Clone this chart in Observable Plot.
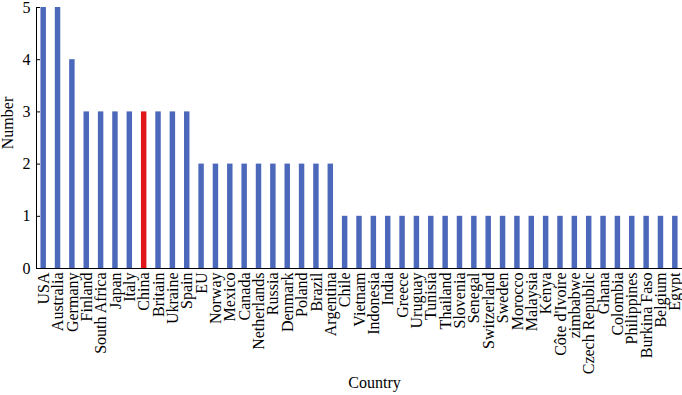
<!DOCTYPE html>
<html>
<head>
<meta charset="utf-8">
<script src="https://cdn.jsdelivr.net/npm/d3@7"></script>
<script src="https://cdn.jsdelivr.net/npm/@observablehq/plot@0.6"></script>
<style>
  html, body { margin: 0; padding: 0; background: #fff; }
  svg { display: block; }
</style>
</head>
<body>
<div id="chart"></div>
<script>
const countries = ["USA","Australia","Germany","Finland","South Africa","Japan","Italy","China","Britain","Ukraine","Spain","EU","Norway","Mexico","Canada","Netherlands","Russia","Denmark","Poland","Brazil","Argentina","Chile","Vietnam","Indonesia","India","Greece","Uruguay","Tunisia","Thailand","Slovenia","Senegal","Switzerland","Sweden","Morocco","Malaysia","Kenya","Côte d'Ivoire","zimbabwe","Czech Republic","Ghana","Colombia","Philippines","Burkina Faso","Belgium","Egypt"];
const counts = [5,5,4,3,3,3,3,3,3,3,3,2,2,2,2,2,2,2,2,2,2,1,1,1,1,1,1,1,1,1,1,1,1,1,1,1,1,1,1,1,1,1,1,1,1];
const highlight = "China";
const yTicks = [0,1,2,3,4,5];

const data = countries.map((c, i) => ({country: c, value: counts[i], hi: c === highlight}));

const chart = Plot.plot({
  width: 682,
  height: 395,
  marginLeft: 36,
  marginRight: 0,
  marginTop: 7,
  marginBottom: 127,
  style: {fontFamily: "'Liberation Serif', 'Times New Roman', serif", fontSize: "16px", color: "#000", background: "#fff"},
  x: {domain: countries, paddingInner: 0.62, paddingOuter: 0.31, round: false},
  y: {domain: [0, 5]},
  marks: [
    Plot.barY(data, {x: "country", y: "value", fill: d => d.hi ? "#e0161b" : "#4b68bb"}),
    Plot.axisX({tickSize: 0, tickPadding: 4, tickRotate: -90, fontSize: 16, label: null}),
    Plot.axisY({ticks: yTicks, tickFormat: "d", tickSize: -4, tickPadding: 10, fontSize: 16, label: null}),
    Plot.ruleY([0], {stroke: "#000", strokeWidth: 1}),
    Plot.frame({anchor: "left", stroke: "#000"}),
    Plot.text(["Number"], {frameAnchor: "left", textAnchor: "middle", dx: -29, dy: -15, rotate: -90, fontSize: 16}),
    Plot.text(["Country"], {frameAnchor: "bottom", textAnchor: "middle", dy: 119, dx: 15, fontSize: 16})
  ]
});
document.getElementById("chart").appendChild(chart);
</script>
</body>
</html>
